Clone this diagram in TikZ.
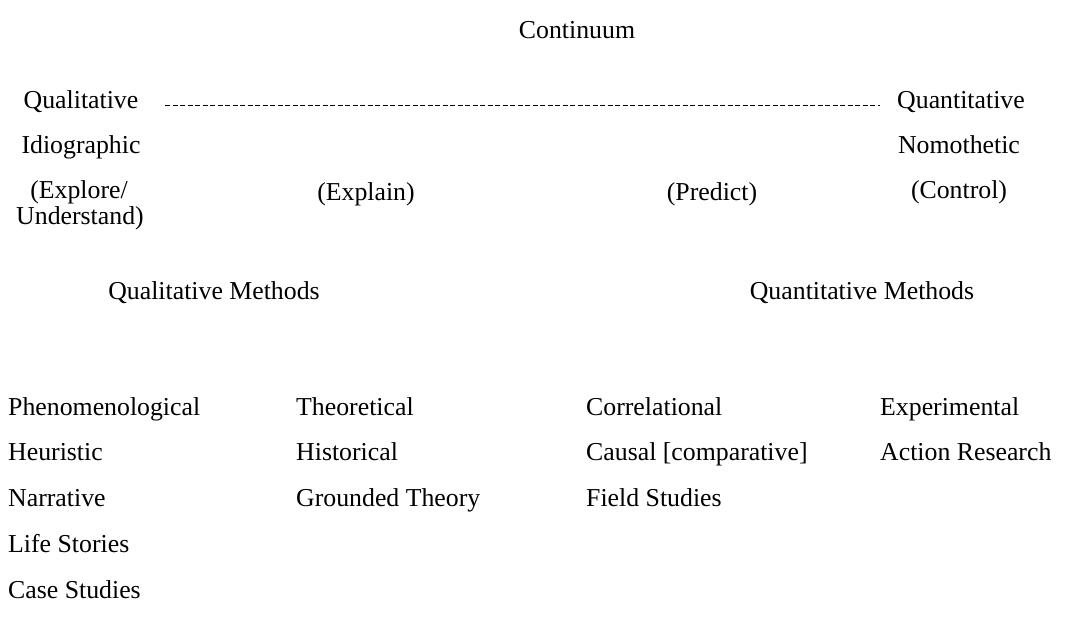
\documentclass[tikz,border=0pt]{standalone}
\usepackage{fontspec}
\setmainfont{Liberation Serif}
\tikzset{lbl/.style={inner sep=0pt,font=\rmfamily\fontsize{25.8}{30}\selectfont},
         dashline/.style={line width=1pt,dash pattern=on 5pt off 2.5pt}}

\begin{document}
\begin{tikzpicture}[x=1pt,y=-1pt]
  \useasboundingbox (0,0) rectangle (1066,631);
  \node[lbl,anchor=base] (cont) at (577,39) {Continuum};
  %
  \node[lbl,anchor=base] (qualt) at (81,109) {Qualitative};
  \node[lbl,anchor=base] (quant) at (961,109) {Quantitative};
  \coordinate (dashL) at (165,106);
  \coordinate (dashR) at (880,106);
  \draw[dashline] (dashL) -- (dashR);
  \node[lbl,anchor=base] (idio) at (81,154) {Idiographic};
  \node[lbl,anchor=base] (nomo) at (959,154) {Nomothetic};
  \node[lbl,anchor=base] (explore) at (79,199) {(Explore/};
  \node[lbl,anchor=base] (underst) at (80,225) {Understand)};
  \node[lbl,anchor=base] (explain) at (366,201) {(Explain)};
  \node[lbl,anchor=base] (predict) at (712,201) {(Predict)};
  \node[lbl,anchor=base] (control) at (959,199) {(Control)};
  %
  \node[lbl,anchor=base] (qlmeth) at (214,299) {Qualitative Methods};
  \node[lbl,anchor=base] (qnmeth) at (862,299) {Quantitative Methods};
  %
  \foreach \t [count=\i] in {Phenomenological,Heuristic,Narrative,Life Stories,Case Studies}
           {\node[lbl,anchor=base west] (ma\i) at (8,{415+45.8*(\i-1)}) {\t};}
  \foreach \t [count=\i] in {Theoretical,Historical,Grounded Theory}
           {\node[lbl,anchor=base west] (mb\i) at (296,{415+45.8*(\i-1)}) {\t};}
  \foreach \t [count=\i] in {Correlational,Causal [comparative],Field Studies}
           {\node[lbl,anchor=base west] (mc\i) at (586,{415+45.8*(\i-1)}) {\t};}
  \foreach \t [count=\i] in {Experimental,Action Research}
           {\node[lbl,anchor=base west] (md\i) at (880,{415+45.8*(\i-1)}) {\t};}
\end{tikzpicture}
\end{document}
